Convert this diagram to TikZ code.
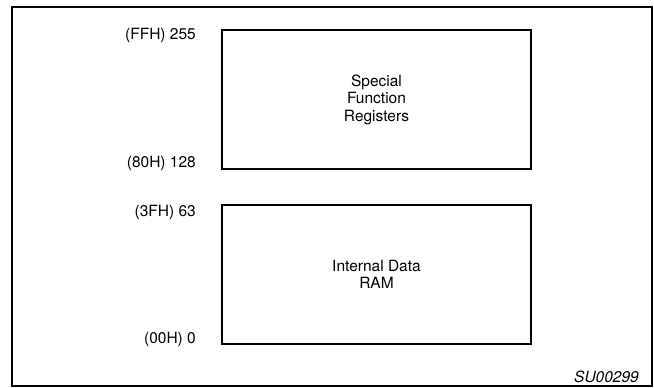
\documentclass[tikz,border=0pt]{standalone}
\usepackage{fontspec}
\setmainfont{TeX Gyre Heros}
\begin{document}
\begin{tikzpicture}[x=1pt,y=-1pt,
  memblock/.style={draw, line width=2.6pt, minimum width=309pt, minimum height=139pt, inner sep=0pt, align=center, font=\fontsize{15.5}{17.5}\selectfont},
  addr/.style={anchor=east, inner sep=0pt, font=\fontsize{15.5}{17.5}\selectfont}]
\useasboundingbox (0,0) rectangle (654,388);
\node[draw, line width=2.6pt, minimum width=640pt, minimum height=379pt, inner sep=0pt] (frame) at (332,196.5) {};
\node[memblock] (sfr) at (376.5,99.5) {Special\\Function\\Registers};
\node[memblock] (ram) at (376.5,274.5) {Internal Data\\RAM};
\node[addr] (a255) at (196,35) {(FFH) 255};
\node[addr] (a128) at (196,163) {(80H) 128};
\node[addr] (a63) at (196,212) {(3FH) 63};
\node[addr] (a0) at (196,339) {(00H) 0};
\node[anchor=east, inner sep=0pt, font=\fontsize{15.5}{17.5}\selectfont\itshape] (id) at (639,377) {SU00299};
\end{tikzpicture}
\end{document}
